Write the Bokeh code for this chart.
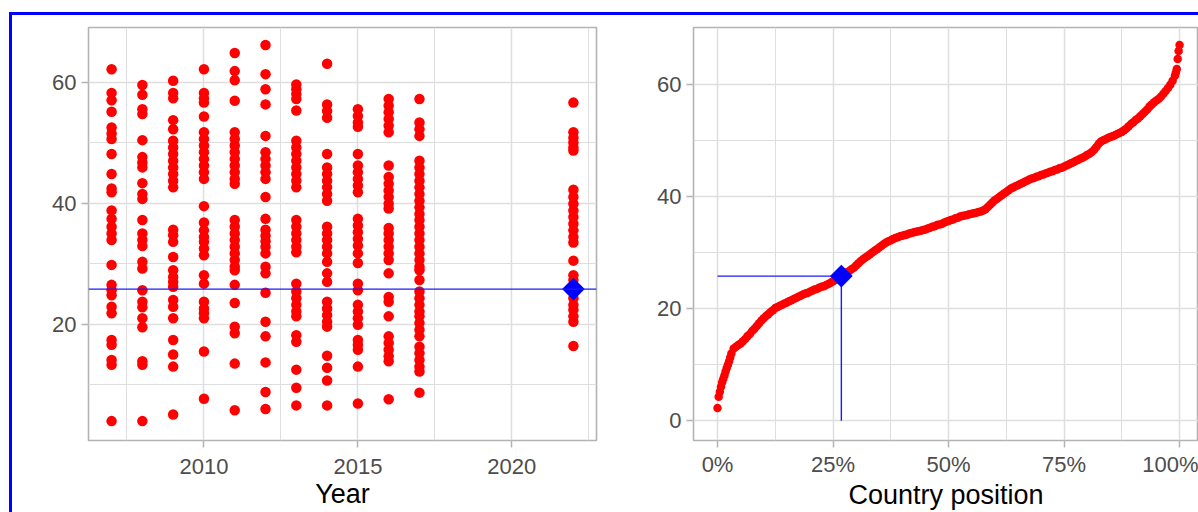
from math import pi
from bokeh.plotting import figure
from bokeh.models import Span, FixedTicker, NumeralTickFormatter, Range1d
from bokeh.layouts import row
from bokeh.embed import file_html
from bokeh.resources import INLINE

# ---------------- data: left panel (value by year) ----------------
y2007 = [62.1, 58.2, 57.0, 55.1, 52.5, 51.5, 50.6, 48.1, 44.8, 42.4, 41.8, 38.8, 37.4, 36.1,
         35.0, 33.9, 29.8, 26.5, 25.6, 24.8, 22.9, 21.8, 17.4, 16.6, 14.1, 13.3, 4.0]
y2008 = [59.5, 57.9, 55.5, 54.7, 50.4, 47.6, 46.7, 45.9, 43.3, 41.5, 40.7, 37.2, 35.0, 33.9,
         32.9, 30.3, 29.2, 25.6, 23.7, 22.8, 21.0, 19.5, 13.9, 13.3, 4.0]
y2009 = [60.2, 58.2, 57.3, 53.7, 52.2, 50.3, 49.2, 48.1, 47.0, 45.9, 44.8, 43.7, 42.6, 35.6,
         34.7, 33.6, 31.1, 28.9, 27.8, 27.0, 26.2, 24.0, 22.9, 21.0, 17.4, 15.0, 13.0, 5.1]
y2010 = [62.1, 58.2, 57.3, 56.6, 54.3, 51.7, 50.6, 49.5, 48.4, 47.3, 46.2, 45.1, 44.0, 39.5,
         36.8, 35.5, 34.4, 33.6, 32.5, 31.4, 28.1, 26.7, 23.7, 22.6, 21.8, 21.0, 15.5, 7.7]
y2011 = [64.8, 61.8, 60.3, 56.9, 51.7, 50.6, 49.5, 48.4, 47.3, 46.2, 45.1, 44.0, 43.2, 37.2,
         36.1, 35.0, 33.9, 32.8, 31.7, 30.6, 29.5, 28.9, 26.5, 23.5, 19.6, 18.5, 13.5, 5.8]
y2012 = [66.1, 61.3, 58.8, 56.3, 51.1, 48.4, 47.3, 46.2, 45.1, 44.0, 41.0, 37.4, 35.6, 34.6,
         33.7, 32.8, 31.7, 29.5, 28.4, 25.2, 20.4, 18.0, 13.7, 8.8, 6.0]
y2013 = [59.6, 58.8, 58.0, 57.2, 55.3, 50.3, 49.2, 48.1, 47.0, 45.9, 44.8, 43.7, 42.6, 37.2,
         36.1, 35.0, 33.9, 32.8, 31.9, 26.7, 25.4, 24.3, 23.2, 22.1, 21.3, 18.2, 17.1, 12.5, 9.5, 6.6]
y2014 = [63.0, 56.3, 55.2, 54.1, 48.1, 45.9, 44.8, 43.7, 42.6, 41.5, 40.4, 36.1, 35.0, 33.9,
         32.8, 31.7, 30.3, 28.4, 27.0, 23.7, 22.6, 21.5, 20.4, 19.6, 14.8, 12.8, 10.7, 6.6]
y2015 = [55.5, 54.4, 53.3, 52.6, 48.1, 46.2, 45.1, 44.0, 42.9, 41.8, 37.4, 36.3, 35.2, 34.1,
         33.0, 31.7, 30.1, 26.7, 25.6, 23.2, 22.1, 21.0, 19.9, 17.4, 16.6, 15.8, 13.0, 6.9]
y2016 = [57.2, 56.1, 55.0, 53.9, 52.8, 51.7, 46.2, 44.3, 43.2, 42.1, 41.0, 39.9, 39.1, 35.9,
         35.0, 33.9, 32.8, 31.7, 30.6, 28.4, 24.5, 23.7, 21.3, 18.0, 16.9, 15.8, 14.7, 13.9, 7.6]
y2017 = [57.2, 53.3, 52.2, 51.1, 47.0, 45.9, 44.8, 43.7, 42.6, 41.5, 40.4, 39.3, 38.2, 37.2,
         36.1, 35.0, 33.9, 32.8, 31.7, 30.6, 29.5, 28.9, 27.3, 25.4, 24.3, 23.2, 22.1, 21.3,
         20.2, 19.1, 18.0, 16.3, 15.2, 14.1, 13.0, 12.2, 8.7]
y2022 = [56.6, 51.7, 50.8, 50.0, 49.2, 48.7, 42.2, 41.0, 39.9, 38.8, 37.7, 36.6, 35.5, 34.4,
         33.5, 30.5, 28.1, 27.3, 26.3, 25.3, 24.3, 23.2, 22.4, 21.3, 20.4, 16.4]

years = [2007, 2008, 2009, 2010, 2011, 2012, 2013, 2014, 2015, 2016, 2017, 2022]
year_values = [y2007, y2008, y2009, y2010, y2011, y2012, y2013, y2014, y2015, y2016, y2017, y2022]

# highlighted country
hl_year = 2022
hl_value = 25.8
hl_pct = 0.268

# ---------------- data: right panel (sorted values by position, %) ----------------
pos_pct = [0, 0.25, 0.5, 0.75, 1.0, 1.25, 1.5, 1.75, 2.0, 2.25, 2.5, 2.75, 3.0,
           3.5, 4.0, 4.5, 5.0, 5.5, 6.0, 6.5, 7.0, 7.5, 8.0, 8.5, 9.0, 9.5, 10.0,
           10.5, 11.0, 11.5, 12.0, 12.5, 13.0, 13.5, 14.0, 14.5, 15.0, 15.5, 16.0, 16.5, 17.0,
           17.5, 18.0, 18.5, 19.0, 19.5, 20.0, 20.5, 21.0, 21.5, 22.0, 22.5, 23.0, 23.5, 24.0,
           24.5, 25.0, 25.5, 26.0, 26.5, 27.0, 27.5, 28.0, 28.5, 29.0, 29.5, 30.0, 30.5, 31.0,
           31.5, 32.0, 32.5, 33.0, 33.5, 34.0, 34.5, 35.0, 35.5, 36.0, 36.5, 37.0, 37.5, 38.0,
           38.5, 39.0, 39.5, 40.0, 40.5, 41.0, 41.5, 42.0, 42.5, 43.0, 43.5, 44.0, 44.5, 45.0,
           45.5, 46.0, 46.5, 47.0, 47.5, 48.0, 48.5, 49.0, 49.5, 50.0, 50.5, 51.0, 51.5, 52.0,
           52.5, 53.0, 53.5, 54.0, 54.5, 55.0, 55.5, 56.0, 56.5, 57.0, 57.5, 58.0, 58.5, 59.0,
           59.5, 60.0, 60.5, 61.0, 61.5, 62.0, 62.5, 63.0, 63.5, 64.0, 64.5, 65.0, 65.5, 66.0,
           66.5, 67.0, 67.5, 68.0, 68.5, 69.0, 69.5, 70.0, 70.5, 71.0, 71.5, 72.0, 72.5, 73.0,
           73.5, 74.0, 74.5, 75.0, 75.5, 76.0, 76.5, 77.0, 77.5, 78.0, 78.5, 79.0, 79.5, 80.0,
           80.5, 81.0, 81.5, 82.0, 82.5, 83.0, 83.5, 84.0, 84.5, 85.0, 85.5, 86.0, 86.5, 87.0,
           87.5, 88.0, 88.5, 89.0, 89.5, 90.0, 90.5, 91.0, 91.5, 92.0, 92.5, 93.0, 93.5, 94.0,
           94.5, 95.0, 95.5, 96.0, 96.5, 97.0, 97.5, 98.0, 98.5, 99.0, 99.2, 99.4, 99.6, 99.8, 100]
pos_value = [2.3, 4.3, 5.2, 6.1, 6.9, 7.5, 8.1, 8.8, 9.4, 10.0, 10.6, 11.3, 12.0,
             12.9, 13.2, 13.5, 13.8, 14.2, 14.6, 15.1, 15.5, 16.0, 16.4, 16.9, 17.4, 17.9, 18.3,
             18.7, 19.0, 19.4, 19.7, 20.1, 20.3, 20.5, 20.7, 20.9, 21.1, 21.3, 21.5, 21.7, 21.9,
             22.1, 22.3, 22.5, 22.7, 22.8, 23.0, 23.2, 23.4, 23.5, 23.7, 23.9, 24.0, 24.2, 24.4,
             24.6, 24.9, 25.1, 25.3, 25.6, 25.9, 26.2, 26.5, 26.7, 27.0, 27.3, 27.7, 28.1, 28.5,
             28.8, 29.1, 29.4, 29.7, 30.0, 30.3, 30.6, 30.9, 31.2, 31.5, 31.8, 32.0, 32.2, 32.4,
             32.6, 32.7, 32.9, 33.0, 33.1, 33.2, 33.4, 33.5, 33.6, 33.7, 33.8, 33.9, 34.0, 34.1,
             34.3, 34.4, 34.6, 34.7, 34.9, 35.0, 35.1, 35.3, 35.5, 35.6, 35.8, 35.9, 36.1, 36.2,
             36.4, 36.5, 36.6, 36.7, 36.8, 36.9, 37.0, 37.1, 37.2, 37.3, 37.5, 37.7, 38.1, 38.5,
             38.9, 39.3, 39.6, 39.9, 40.2, 40.5, 40.8, 41.1, 41.4, 41.6, 41.8, 42.0, 42.2, 42.4,
             42.6, 42.8, 43.0, 43.2, 43.3, 43.5, 43.6, 43.8, 43.9, 44.1, 44.2, 44.4, 44.5, 44.7,
             44.8, 45.0, 45.1, 45.3, 45.5, 45.7, 45.9, 46.1, 46.3, 46.5, 46.7, 46.9, 47.1, 47.4,
             47.6, 47.9, 48.3, 48.8, 49.4, 49.8, 50.0, 50.2, 50.4, 50.6, 50.7, 50.9, 51.1, 51.3,
             51.5, 51.8, 52.1, 52.5, 52.9, 53.2, 53.6, 53.9, 54.3, 54.7, 55.1, 55.5, 56.0, 56.4,
             56.8, 57.1, 57.4, 57.8, 58.3, 58.8, 59.3, 59.9, 60.6, 61.5, 62.1, 62.7, 64.5, 65.9, 67.0]

# ---------------- styling helpers ----------------
FONT = "Liberation Sans"
GRID = "#DEDEDE"
BORDER = "#B3B3B3"
HL = "#1A1AFF"


def style(p, xt, xm, yt, ym):
    p.xaxis.ticker = FixedTicker(ticks=xt, minor_ticks=xm)
    p.yaxis.ticker = FixedTicker(ticks=yt, minor_ticks=ym)
    for g in (p.xgrid, p.ygrid):
        g.grid_line_color = GRID
        g.grid_line_width = 1.5
        g.minor_grid_line_color = GRID
        g.minor_grid_line_width = 1.0
    p.outline_line_color = BORDER
    p.outline_line_width = 1.6
    p.background_fill_color = "white"
    p.border_fill_color = "white"
    for ax in (p.xaxis, p.yaxis):
        ax.axis_line_color = None
        ax.major_tick_line_color = BORDER
        ax.major_tick_line_width = 1.5
        ax.major_tick_in = 0
        ax.major_tick_out = 7
        ax.minor_tick_line_color = None
        ax.major_label_text_font = FONT
        ax.major_label_text_font_size = "22px"
        ax.major_label_text_color = "#4D4D4D"
        ax.axis_label_text_font = FONT
        ax.axis_label_text_font_size = "27px"
        ax.axis_label_text_color = "black"
        ax.axis_label_text_font_style = "normal"
        ax.axis_label_standoff = 0
    p.yaxis.major_label_standoff = 5


# ---------------- left panel ----------------
xs, ys = [], []
for yr, vals in zip(years, year_values):
    xs.extend([yr] * len(vals))
    ys.extend(vals)

p1 = figure(width=608, height=497, x_range=Range1d(2006.25, 2022.75), y_range=Range1d(0.8, 69.0),
            output_backend="svg", toolbar_location=None,
            min_border_left=76, min_border_right=24, min_border_top=11, min_border_bottom=71)
p1.scatter(xs, ys, size=10.5, fill_color="red", line_color="red", line_width=0)
p1.add_layout(Span(location=hl_value, dimension="width", line_color=HL, line_width=1.4))
p1.scatter([hl_year], [hl_value], marker="square", angle=pi / 4, size=16,
           fill_color="blue", line_color="blue", line_width=0)
style(p1, [2010, 2015, 2020], [2007.5, 2012.5, 2017.5, 2022.5], [20, 40, 60], [10, 30, 50])
p1.xaxis.axis_label = "Year"
p1.xaxis.major_label_standoff = 11
p1.xaxis.axis_label_standoff = 2

# ---------------- right panel ----------------
px = [v / 100 for v in pos_pct]
p2 = figure(width=578, height=497, x_range=Range1d(-0.052, 1.041), y_range=Range1d(-3.5, 70.1),
            output_backend="svg", toolbar_location=None,
            min_border_left=73, min_border_right=0, min_border_top=12, min_border_bottom=70)
p2.scatter(px, pos_value, size=8.5, fill_color="red", line_color="red", line_width=0)
p2.segment(x0=[0, hl_pct], y0=[hl_value, hl_value], x1=[hl_pct, hl_pct], y1=[hl_value, 0],
           line_color=HL, line_width=1.4)
p2.scatter([hl_pct], [hl_value], marker="square", angle=pi / 4, size=16,
           fill_color="blue", line_color="blue", line_width=0)
style(p2, [0, 0.25, 0.5, 0.75, 1.0], [0.125, 0.375, 0.625, 0.875], [0, 20, 40, 60], [10, 30, 50])
p2.xaxis.formatter = NumeralTickFormatter(format="0%")
p2.xaxis.axis_label = "Country position"
p2.xaxis.major_label_standoff = 4

layout = row(p1, p2, styles={"border-top": "3px solid blue", "border-left": "3px solid blue",
                             "margin-top": "12px", "margin-left": "9px"})

open("out.html", "w").write(file_html(layout, INLINE))
